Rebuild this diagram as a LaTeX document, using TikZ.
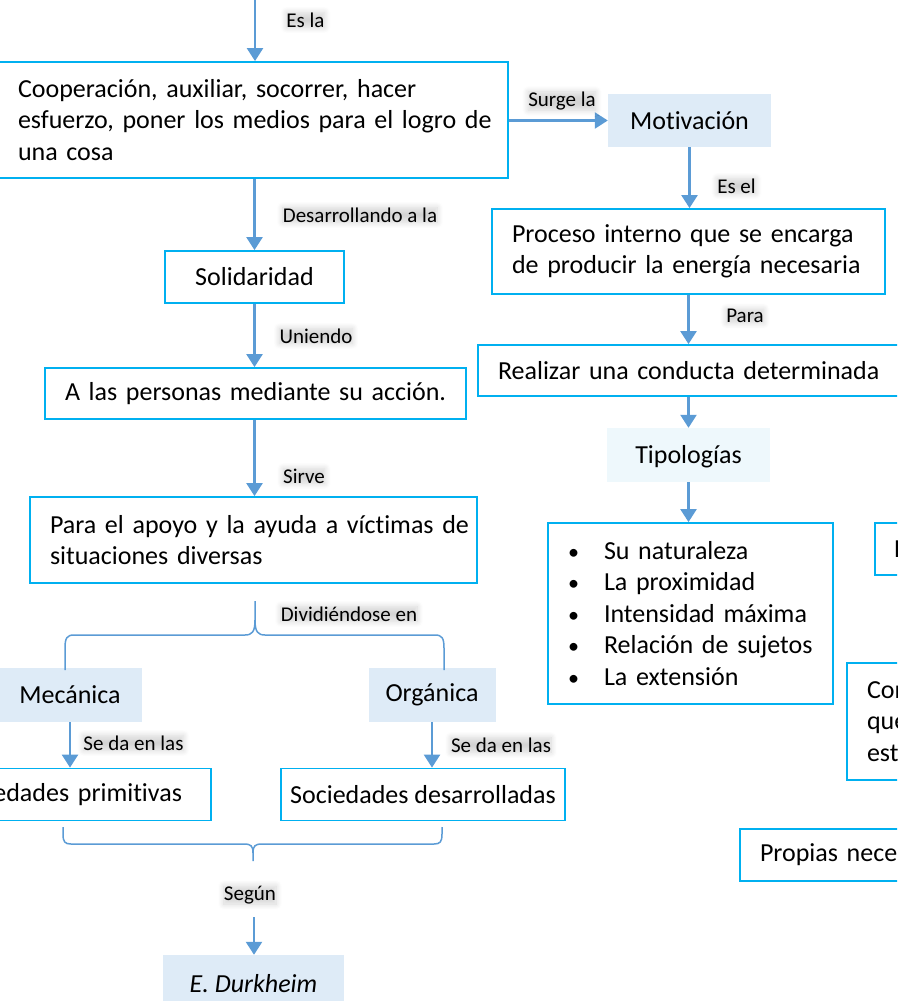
\documentclass[tikz,border=0pt]{standalone}
\usepackage{fontspec}
\setmainfont{Carlito}[Ligatures=NoCommon]
\usetikzlibrary{arrows.meta,calc,shadows.blur}
\definecolor{boxc}{HTML}{00B0F0}
\definecolor{arrc}{HTML}{5B9BD5}
\definecolor{fillb}{HTML}{DEEBF7}
\definecolor{filltp}{HTML}{EEF8FC}
\newcommand\mainsz{\fontsize{26}{31.5}\selectfont}
\newcommand\lblsz{\fontsize{21}{25}\selectfont}
\begin{document}
\begin{tikzpicture}[x=1pt,y=-1pt,
  bx/.style={draw=boxc,line width=1.8pt,font=\mainsz,align=left,inner ysep=0pt},
  fb/.style={fill=#1,font=\mainsz,inner sep=0pt},
  fb/.default=fillb,
  arr/.style={draw=arrc,line width=2.4pt,-{Triangle[width=16pt,length=13pt]}},
  brc/.style={draw=arrc,line width=1.5pt},
  lbl/.style={font=\lblsz,inner xsep=0pt,inner ysep=0pt,
    blur shadow={shadow xshift=0pt,shadow yshift=0pt,shadow blur radius=6pt,
      shadow opacity=17,shadow blur steps=12}}]
\useasboundingbox (0,0) rectangle (897,1001);
\clip (0,0) rectangle (897,1001);

% ---------- boxes ----------
\node[bx,minimum width=528pt,minimum height=116pt,text width=452pt,inner xsep=38pt] (coop) at (244,120)
  {\mbox{Cooperación, auxiliar, socorrer, hacer}\\\mbox{esfuerzo, poner los medios para el logro de}\\\mbox{una cosa}};
\node[fb,minimum width=163pt,minimum height=53pt] (mot) at (689.5,120.5) {Motivación};
\node[bx,minimum width=393pt,minimum height=85pt,text width=353pt,inner xsep=20pt] (proc) at (688.5,251.5)
  {\mbox{Proceso interno que se encarga}\\\mbox{de producir la energía necesaria}};
\node[bx,minimum width=460pt,minimum height=51pt,text width=420pt,inner xsep=20pt] (real) at (708,370.5)
  {\mbox{Realizar una conducta determinada}};
\node[fb=filltp,minimum width=163pt,minimum height=54pt,text depth=2pt] (tipo) at (688.5,455) {Tipologías};
\node[bx,minimum width=285pt,minimum height=181pt,text width=247pt,inner xsep=19pt] (bul) at (690.5,613.5)
  {\mbox{\makebox[37pt][l]{\hspace{1pt}\scalebox{0.85}{•}}Su naturaleza}\\
   \mbox{\makebox[37pt][l]{\hspace{1pt}\scalebox{0.85}{•}}La proximidad}\\
   \mbox{\makebox[37pt][l]{\hspace{1pt}\scalebox{0.85}{•}}Intensidad máxima}\\
   \mbox{\makebox[37pt][l]{\hspace{1pt}\scalebox{0.85}{•}}Relación de sujetos}\\
   \mbox{\makebox[37pt][l]{\hspace{1pt}\scalebox{0.85}{•}}La extensión}};
\node[bx,minimum width=74pt,minimum height=52pt,text width=36pt,inner xsep=19pt] (rp) at (912,549) {P};
\node[bx,minimum width=200pt,minimum height=117pt,text width=160pt,inner xsep=20pt] (con) at (947,721.5)
  {Con\\que\\est};
\node[bx,minimum width=300pt,minimum height=52pt,text width=260pt,inner xsep=20pt] (prop) at (890,855)
  {\mbox{Propias nece}};

\node[bx,align=center,minimum width=179pt,minimum height=52pt] (soli) at (254.5,277) {Solidaridad};
\node[bx,minimum width=421pt,minimum height=51pt,text width=381pt,inner xsep=20pt] (pers) at (255.5,393.5)
  {\mbox{A las personas mediante su acción.}};
\node[bx,minimum width=447pt,minimum height=86pt,text width=407pt,inner xsep=20pt] (apoyo) at (253.5,540)
  {\mbox{Para el apoyo y la ayuda a víctimas de}\\\mbox{situaciones diversas}};
\node[fb,minimum width=144pt,minimum height=54pt] (mec) at (70,695) {Mecánica};
\node[fb,minimum width=127pt,minimum height=54pt] (org) at (432,695) {Orgánica};
\node[bx,align=right,minimum width=311pt,minimum height=52pt,text width=253pt,inner xsep=29pt] (prim) at (55.5,794.5)
  {\mbox{Sociedades primitivas}};
\node[bx,align=center,minimum width=284pt,minimum height=52pt] (desa) at (423,794.5) {Sociedades desarrolladas};
\node[fb,minimum width=181pt,minimum height=57pt] (durk) at (253.5,983.5) {\itshape E. Durkheim};

% ---------- connectors ----------
\coordinate (top) at (255,-5);
\draw[arr] (top) -- (top |- coop.north);
\draw[arr] (coop.east |- mot.west) -- (mot.west);
\draw[arr] (mot.south) -- (mot.south |- proc.north);
\draw[arr] (proc.south) -- (proc.south |- real.north);
\draw[arr] (tipo.north |- real.south) -- (tipo.north);
\draw[arr] (tipo.south) -- (tipo.south |- bul.north);
\draw[arr] (soli.north |- coop.south) -- (soli.north);
\draw[arr] (soli.south) -- (soli.south |- pers.north);
\draw[arr] (soli.south |- pers.south) -- (soli.south |- apoyo.north);
\draw[arr] (mec.south) -- (mec.south |- prim.north);
\draw[arr] (org.south) -- (org.south |- desa.north);
\coordinate (sg) at (254,917);
\draw[arr] (sg) -- (sg |- durk.north);

% ---------- braces ----------
\coordinate (bt) at (255,601);
\draw[brc] (bt) -- (255,620) .. controls (255,632) and (252,635) .. (245,635) -- (74,635)
  .. controls (67,635) and (65,638) .. (65,648) -- (65,670);
\draw[brc] (255,620) .. controls (255,632) and (258,635) .. (265,635) -- (435,635)
  .. controls (442,635) and (444,638) .. (444,648) -- (444,670);
\coordinate (bb) at (253,861);
\draw[brc] (63,827) -- (63,834) .. controls (63,842) and (65,844) .. (71,844) -- (244,844)
  .. controls (251,844) and (253,846) .. (253,853) -- (bb);
\draw[brc] (442,827) -- (442,834) .. controls (442,842) and (440,844) .. (434,844) -- (262,844)
  .. controls (255,844) and (253,846) .. (253,853);

% ---------- labels ----------
\node[lbl] (l1) at (305.5,20) {Es la};
\node[lbl] (l2) at (562,101) {Surge la};
\node[lbl] (l3) at (736.5,186) {Es el};
\node[lbl] (l4) at (745,316) {Para};
\node[lbl] (l5) at (360,215) {Desarrollando a la};
\node[lbl] (l6) at (316,336) {Uniendo};
\node[lbl] (l7) at (304,476) {Sirve};
\node[lbl] (l8) at (349,614) {Dividiéndose en};
\node[lbl] (l9) at (133.5,743) {Se da en las};
\node[lbl] (l10) at (501,745) {Se da en las};
\node[lbl] (l11) at (250,895) {Según};
\end{tikzpicture}
\end{document}
